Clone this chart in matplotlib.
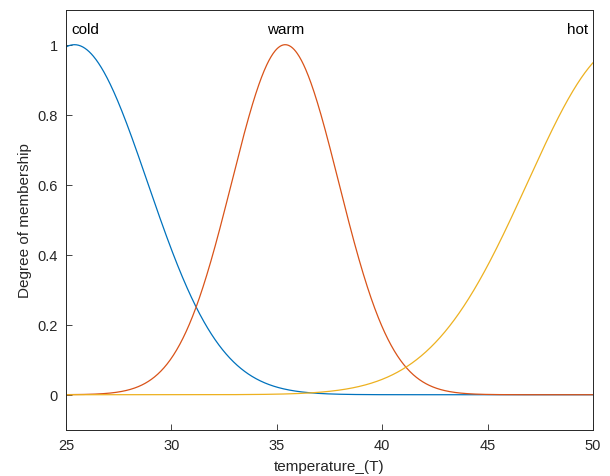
import numpy as np
import matplotlib
matplotlib.use("Agg")
import matplotlib.pyplot as plt

plt.rcParams['font.family'] = ['Liberation Sans', 'DejaVu Sans']

# Fuzzy membership functions (gaussmf parameters: sigma, center)
mf_names = ["cold", "warm", "hot"]
mf_sigma = [3.47, 2.54, 4.6]
mf_center = [25.4, 35.4, 51.5]
x_range = [25, 50]
yticks = [0, 0.2, 0.4, 0.6, 0.8, 1]
xticks = [25, 30, 35, 40, 45, 50]
colors = ["#0072BD", "#D95319", "#EDB120"]

fig = plt.figure(figsize=(6.10, 4.77), dpi=100)
ax = fig.add_axes([0.1082, 0.097, 0.972 - 0.1082, 0.9776 - 0.097])

x = np.linspace(x_range[0], x_range[1], 1001)
for name, s, c, col in zip(mf_names, mf_sigma, mf_center, colors):
    y = np.exp(-((x - c) ** 2) / (2 * s ** 2))
    ax.plot(x, y, color=col, lw=0.9)

ax.set_xlim(*x_range)
ax.set_ylim(-0.1, 1.1)
ax.set_xticks(xticks)
ax.set_yticks(yticks)
ax.set_yticklabels([f"{v:g}" for v in yticks])

dark = "#262626"
ax.tick_params(direction="in", length=4, width=0.6, colors=dark, labelsize=10.5,
               top=False, right=False, pad=6)
for sp in ax.spines.values():
    sp.set_color(dark)
    sp.set_linewidth(0.7)

ax.set_xlabel("temperature_(T)", fontsize=11, color=dark, labelpad=5)
ax.set_ylabel("Degree of membership", fontsize=11, color=dark, labelpad=4)

# labels at the top of each MF
label_y = 1.025
ax.text(x_range[0] + 0.25, label_y, mf_names[0], ha="left", va="bottom", fontsize=11, color="black")
ax.text(mf_center[1], label_y, mf_names[1], ha="center", va="bottom", fontsize=11, color="black")
ax.text(x_range[1] - 0.25, label_y, mf_names[2], ha="right", va="bottom", fontsize=11, color="black")

fig.savefig("out.png", dpi=100)
